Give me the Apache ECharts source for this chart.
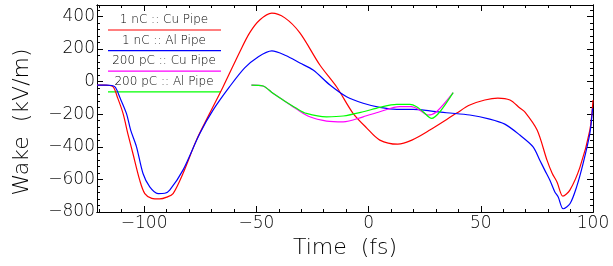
<!DOCTYPE html>
<html>
<head>
<meta charset="utf-8">
<script src="https://cdn.jsdelivr.net/npm/echarts@6/dist/echarts.min.js"></script>
<style>
html,body{margin:0;padding:0;background:#fff;}
#main{width:613px;height:266px;}
</style>
</head>
<body>
<div id="main"></div>
<script>
// wake data (time in fs, wake in kV/m)
var seriesNames = ['1 nC :: Cu Pipe', '1 nC :: Al Pipe', '200 pC :: Cu Pipe', '200 pC :: Al Pipe'];
var seriesColors = ['#ff0000', '#0000ff', '#ff00ff', '#00ff00'];

var cu1nTime = [-121, -117.6, -113.9, -111.8, -109.4, -107.3, -105, -102, -99.7, -96.6, -93.1, -89.9, -87.1, -82.7, -76.7, -70.8, -64.8,
	-57.4, -53, -48.5, -43.1, -37.3, -30.6, -21.7, -14.2, -7, -0.8, 5, 13, 19.3, 27.3, 39.3, 45.1, 51.8, 57.6, 63, 67.4, 69.7,
	75.1, 79.5, 81.8, 84, 86.6, 89.7, 94.2, 98.6, 100];
var cu1nWake = [-21, -21, -31, -100, -195, -317, -441, -603, -687, -716, -720, -709, -687, -564, -359, -195, -31,
	182, 299, 378, 420, 391, 299, 102, -33, -193, -285, -359, -384, -359, -297, -193, -144, -113, -101, -113, -162, -187,
	-297, -482, -562, -617, -703, -666, -525, -297, -113];

var al1nTime = [-121, -116.7, -113.1, -110.9, -107.9, -106, -103.4, -100.5, -97.5, -93.8, -90.8, -88.6, -82.7, -75.2, -69.3, -61.9,
	-55.2, -49.4, -43.1, -36.9, -30.6, -24.7, -17.2, -9.8, -2.4, 5, 12.5, 19.9, 27.3, 34.7, 45.1, 54, 60.7, 67.4, 73.3,
	76.3, 78.5, 80.8, 83, 84.5, 86.7, 89.8, 92.7, 95.6, 98.6, 99.8];
var al1nWake = [-21, -21, -31, -95, -195, -298, -400, -564, -646, -687, -685, -666, -543, -318, -175, -31,
	84, 150, 188, 160, 114, 71, -21, -93, -133, -158, -170, -170, -179, -191, -205, -230, -261, -328, -400,
	-482, -543, -605, -677, -708, -780, -748, -646, -502, -318, -164];

var cu200Time = [-52.2, -47, -42.6, -38.1, -32.1, -26.2, -18.7, -11.3, -2.4, 5, 13.9, 19.1, 22.8, 26.5, 30.3, 37.7];
var cu200Wake = [-21, -27, -72, -113, -168, -216, -242, -247, -216, -185, -154, -154, -175, -205, -185, -68];

var al200Time = [-52.2, -47, -42.6, -38.1, -32.1, -27.7, -18.7, -11.3, -2.4, 5, 12.5, 18.4, 21.4, 24.3, 28.1, 31.8, 37.7];
var al200Wake = [-21, -27, -72, -113, -164, -195, -216, -211, -185, -158, -140, -140, -154, -185, -226, -185, -68];

var xMajor = [-100, -50, 0, 50, 100];
var xMinor = [-120, -110, -90, -80, -70, -60, -40, -30, -20, -10, 10, 20, 30, 40, 60, 70, 80, 90];
var yMajor = [-800, -600, -400, -200, 0, 200, 400];
var yMinor = [-760, -720, -680, -640, -560, -520, -480, -440, -360, -320, -280, -240, -160, -120, -80, -40,
	40, 80, 120, 160, 240, 280, 320, 360, 440];

var xMin = -121, xMax = 100, yMin = -800, yMax = 470;

function pairs(t, v){
	var out = [];
	for (var i = 0; i < t.length; i++) out.push([t[i], v[i]]);
	return out;
}

var allData = [pairs(cu1nTime, cu1nWake), pairs(al1nTime, al1nWake), pairs(cu200Time, cu200Wake), pairs(al200Time, al200Wake)];

var labelFont = {fontFamily: 'DejaVu Sans', fontSize: 17, fontWeight: 200, color: '#000'};
function minusFmt(v){ return String(v).replace('-', '\u2212'); }

function xAxisDef(pos, values, len, showLabel, name){
	return {
		type: 'value', position: pos, min: xMin, max: xMax,
		name: name || '', nameLocation: 'middle', nameGap: 23,
		nameTextStyle: {fontFamily: 'DejaVu Sans', fontSize: 22, fontWeight: 200, color: '#000'},
		axisLine: {show: true, onZero: false, lineStyle: {color: '#000', width: 1}},
		axisTick: {show: true, inside: true, length: len, customValues: values, lineStyle: {color: '#000'}},
		axisLabel: showLabel ? Object.assign({show: true, customValues: values, margin: 3, formatter: minusFmt}, labelFont) : {show: false},
		splitLine: {show: false}
	};
}
function yAxisDef(pos, values, len, showLabel){
	return {
		type: 'value', position: pos, min: yMin, max: yMax,
		axisLine: {show: true, onZero: false, lineStyle: {color: '#000', width: 1}},
		axisTick: {show: true, inside: true, length: len, customValues: values, lineStyle: {color: '#000'}},
		axisLabel: showLabel ? Object.assign({show: true, customValues: values, margin: 2, formatter: minusFmt}, labelFont) : {show: false},
		splitLine: {show: false}
	};
}

// legend drawn IDL style: text with a coloured line below it
var legendGraphics = [];
for (var i = 0; i < seriesNames.length; i++) {
	var ty = 20 + i * 20.6;
	legendGraphics.push({
		type: 'text', x: 164, y: ty,
		style: {text: seriesNames[i], fontFamily: 'DejaVu Sans', fontSize: 12, fontWeight: 200, fill: '#000',
			align: 'center', verticalAlign: 'middle'}
	});
	legendGraphics.push({
		type: 'line', shape: {x1: 108, y1: ty + 10, x2: 221, y2: ty + 10},
		style: {stroke: seriesColors[i], lineWidth: 1.2}
	});
}
// y title sits a bit below the middle of the plot, as in the original
legendGraphics.push({
	type: 'text', x: 22, y: 122, rotation: Math.PI / 2,
	style: {text: 'Wake  (kV/m)', fontFamily: 'DejaVu Sans', fontSize: 22, fontWeight: 200, fill: '#000',
		align: 'center', verticalAlign: 'middle'}
});

var myChart = echarts.init(document.getElementById('main'));
myChart.setOption({
	animation: false,
	backgroundColor: '#fff',
	grid: {left: 97, right: 20, top: 5, bottom: 54},
	xAxis: [
		xAxisDef('bottom', xMajor, 6, true, 'Time  (fs)'),
		xAxisDef('bottom', xMinor, 3, false),
		xAxisDef('top', xMajor, 6, false),
		xAxisDef('top', xMinor, 3, false)
	],
	yAxis: [
		yAxisDef('left', yMajor, 6, true),
		yAxisDef('left', yMinor, 3, false),
		yAxisDef('right', yMajor, 6, false),
		yAxisDef('right', yMinor, 3, false)
	],
	graphic: legendGraphics,
	series: seriesNames.map(function(name, i){
		return {
			name: name, type: 'line', data: allData[i],
			xAxisIndex: 0, yAxisIndex: 0,
			showSymbol: false, smooth: 0.3,
			lineStyle: {color: seriesColors[i], width: 1.2}
		};
	})
});
</script>
</body>
</html>
